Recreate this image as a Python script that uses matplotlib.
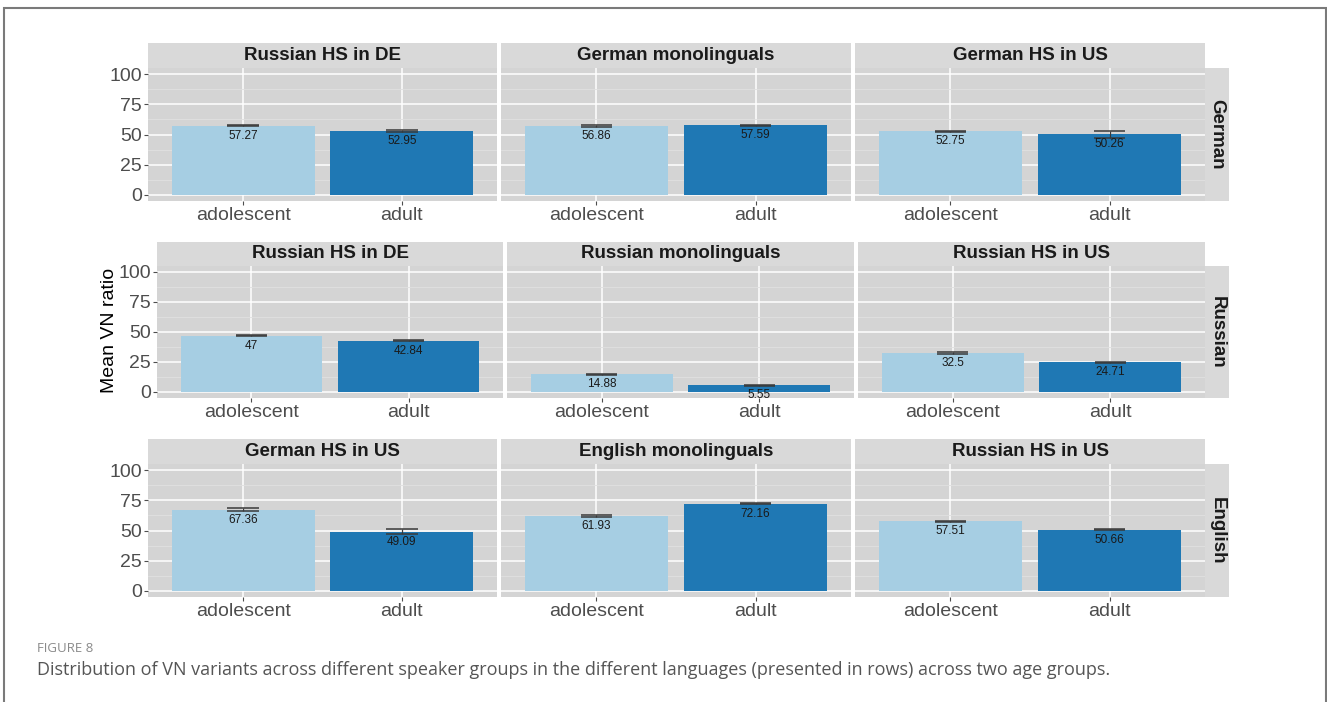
import matplotlib
matplotlib.use('Agg')
from matplotlib import pyplot as plt
from matplotlib.patches import Rectangle

# Zeilen (Sprachen) und Gruppen
languages = ['German', 'Russian', 'English']
groups = [['Russian HS in DE', 'German monolinguals', 'German HS in US'],
          ['Russian HS in DE', 'Russian monolinguals', 'Russian HS in US'],
          ['German HS in US', 'English monolinguals', 'Russian HS in US']]
ages = ['adolescent', 'adult']

# Mittelwerte
adolescent_mean = [[57.27, 56.86, 52.75], [47, 14.88, 32.5], [67.36, 61.93, 57.51]]
adult_mean = [[52.95, 57.59, 50.26], [42.84, 5.55, 24.71], [49.09, 72.16, 50.66]]

# Fehlerbalken (geschätzt)
adolescent_err = [[0.5, 0.6, 0.5], [0.6, 0.4, 0.5], [1.0, 0.9, 0.5]]
adult_err = [[0.5, 0.6, 2.9], [0.4, 0.4, 0.4], [1.9, 0.5, 0.5]]

colors = ['#A6CEE3', '#1F78B4']
panel_bg = '#D4D4D4'
strip_bg = '#D9D9D9'

W, H = 1327, 702
fig = plt.figure(figsize=(W / 100, H / 100), dpi=100)
plt.rcParams['font.family'] = ['Liberation Sans', 'DejaVu Sans']


def px_axes(x0, y0, x1, y1):
    return fig.add_axes([x0 / W, 1 - y1 / H, (x1 - x0) / W, (y1 - y0) / H])


def px_rect(x0, y0, x1, y1, **kw):
    r = Rectangle((x0 / W, 1 - y1 / H), (x1 - x0) / W, (y1 - y0) / H,
                  transform=fig.transFigure, **kw)
    fig.patches.append(r)
    return r


# Rahmen
px_rect(4, 8, 1326, 720, facecolor='none', edgecolor='#7a7a7a', lw=1.5)

# Layout pro Zeile: (strip_top, panel_top, panel_bottom, x-Bereiche)
layout = [
    (43, 68, 201, [(148, 497), (501, 851), (855, 1205)]),
    (242, 266, 398, [(157, 503), (507, 854), (858, 1205)]),
    (439, 464, 597, [(148, 497), (501, 851), (855, 1205)]),
]

for r, lang in enumerate(languages):
    s_top, p_top, p_bot, xs = layout[r]
    for c, (x0, x1) in enumerate(xs):
        ax = px_axes(x0, p_top, x1, p_bot)
        ax.set_facecolor(panel_bg)
        vals = [adolescent_mean[r][c], adult_mean[r][c]]
        errs = [adolescent_err[r][c], adult_err[r][c]]
        pos = [1, 2]
        ax.bar(pos, vals, width=0.9, color=colors, zorder=2)
        for p, v, e in zip(pos, vals, errs):
            ax.hlines([v - e, v + e], p - 0.1, p + 0.1, color='#3a3a3a', lw=1.1, zorder=3)
            ax.vlines(p, v - e, v + e, color='#3a3a3a', lw=0.9, zorder=3)
            ax.annotate(f'{v:g}', (p, v), xytext=(0, -4), textcoords='offset pixels',
                        ha='center', va='top', fontsize=8.5, color='#1a1a1a',
                        zorder=4, annotation_clip=True, clip_on=True)
        ax.set_xlim(0.4, 2.6)
        ax.set_ylim(-5, 105)
        ax.set_xticks(pos)
        ax.set_xticklabels(ages)
        ax.set_yticks([0, 25, 50, 75, 100])
        ax.set_yticks([12.5, 37.5, 62.5, 87.5], minor=True)
        ax.grid(True, which='major', color='white', lw=1.1, zorder=0)
        ax.grid(True, which='minor', axis='y', color='#E0E0E0', lw=0.6, zorder=0)
        ax.set_axisbelow(True)
        for sp in ax.spines.values():
            sp.set_visible(False)
        ax.tick_params(axis='both', which='major', length=3, width=0.8, color='#4d4d4d',
                       labelsize=14, labelcolor='#4d4d4d', pad=1.5)
        ax.tick_params(axis='y', which='minor', length=0)
        if c > 0:
            ax.tick_params(axis='y', labelleft=False, length=0)
        # Streifen oben
        px_rect(x0, s_top, x1, p_top, facecolor=strip_bg, edgecolor='none')
        fig.text((x0 + x1) / 2 / W, 1 - (s_top + p_top) / 2 / H, groups[r][c],
                 ha='center', va='center', fontsize=13.5, fontweight='bold', color='#1a1a1a')
    # Streifen rechts
    px_rect(1205, p_top, 1229, p_bot, facecolor=strip_bg, edgecolor='none')
    fig.text(1217 / W, 1 - (p_top + p_bot) / 2 / H, lang, rotation=270,
             ha='center', va='center', fontsize=13.5, fontweight='bold', color='#1a1a1a')

fig.text(110 / W, 1 - 330 / H, 'Mean VN ratio', rotation=90, ha='center', va='center',
         fontsize=14, color='black')

# Bildunterschrift
fig.text(37 / W, 1 - 648 / H, 'FIGURE 8', ha='left', va='center', fontsize=9.5,
         color='#8a8a8a', family=['Open Sans', 'DejaVu Sans'])
fig.text(37 / W, 1 - 670 / H,
         'Distribution of VN variants across different speaker groups in the different languages '
         '(presented in rows) across two age groups.',
         ha='left', va='center', fontsize=13, color='#555555',
         family=['Open Sans', 'DejaVu Sans'])

plt.savefig('out.png', dpi=100)
